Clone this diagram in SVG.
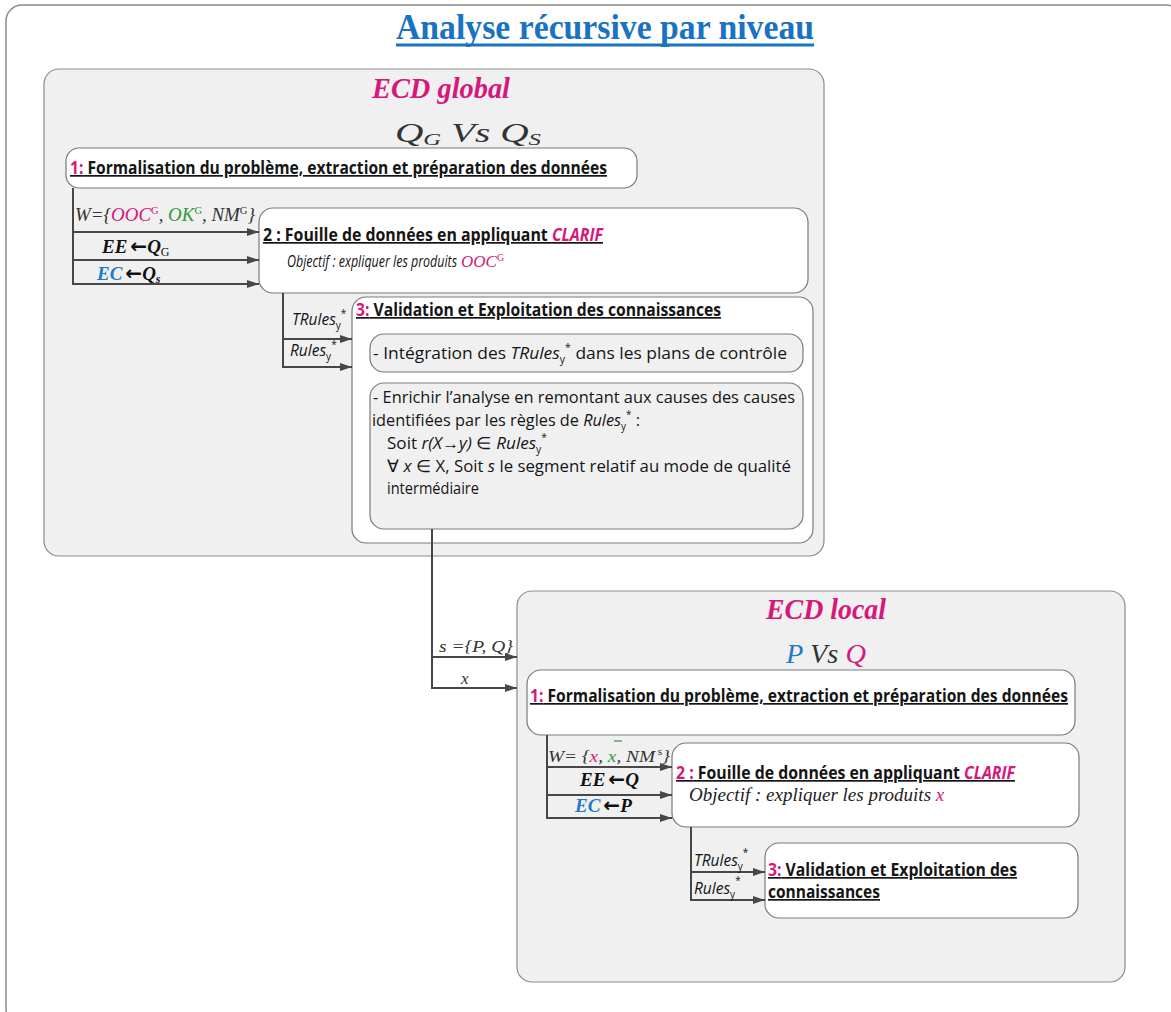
<svg xmlns="http://www.w3.org/2000/svg" width="1171" height="1012" viewBox="0 0 1171 1012">
<defs>
<marker id="ah" viewBox="0 0 12 8" refX="12" refY="4" markerWidth="13" markerHeight="8" markerUnits="userSpaceOnUse" orient="auto">
<path d="M0,0 L12,4 L0,8 z" fill="#474747"/>
</marker>
<style>
.frame{fill:#fff;stroke:#8a8a8a;stroke-width:1.5}
.panel{fill:#f0f0f0;stroke:#8c8c8c;stroke-width:1.2}
.box{fill:#fff;stroke:#7a7a7a;stroke-width:1.2}
.ibox{fill:#f0f0f0;stroke:#7a7a7a;stroke-width:1.2}
.ar{fill:none;stroke:#474747;stroke-width:2;marker-end:url(#ah)}
.cal{font-family:"Open Sans","Liberation Sans",sans-serif;fill:#151515}
.h{font-weight:bold;font-size:17px;text-decoration:underline}
.t{font-size:16.5px}
.it{font-style:italic}
.ser{font-family:"Liberation Serif","DejaVu Serif",serif;font-style:italic;fill:#333}
.big{font-family:"Liberation Serif","DejaVu Serif",serif;font-style:italic;font-weight:bold;fill:#d6177b}
.arr{font-family:"DejaVu Sans",sans-serif;font-style:normal;font-weight:bold}
.mag{fill:#d6177b}
.blu{fill:#1f7ac8}
.grn{fill:#2f9a3a}
.sm{font-size:10px;font-style:normal}
</style>
</defs>

<rect class="frame" x="6" y="5" width="1176" height="1020" rx="16"/>
<text x="605" y="39" text-anchor="middle" textLength="418" lengthAdjust="spacingAndGlyphs" font-family="Liberation Serif, serif" font-weight="bold" font-size="35" fill="#1a73c0">Analyse récursive par niveau</text>
<line x1="396" y1="45" x2="814" y2="45" stroke="#1a73c0" stroke-width="3"/>

<g id="ecd-global">
<rect class="panel" x="44" y="69" width="780" height="487" rx="15"/>
<text class="big" x="372" y="98" font-size="30" textLength="138" lengthAdjust="spacingAndGlyphs">ECD global</text>
<text class="ser" x="395" y="142" font-size="27" textLength="146" lengthAdjust="spacingAndGlyphs">Q<tspan font-size="17" dy="3">G</tspan><tspan dy="-3"> Vs Q</tspan><tspan font-size="17" dy="3">S</tspan></text>
</g>

<g id="g-step1">
<rect class="box" x="66" y="148" width="571" height="40" rx="13"/>
<text class="cal h" x="70" y="174" textLength="537" lengthAdjust="spacingAndGlyphs"><tspan class="mag">1:</tspan> Formalisation du problème, extraction et préparation des données</text>
</g>

<g id="g-step2">
<rect class="box" x="259" y="208" width="549" height="85" rx="14"/>
<text class="cal h" x="263" y="241" textLength="340" lengthAdjust="spacingAndGlyphs">2 : Fouille de données en appliquant <tspan class="mag it">CLARIF</tspan></text>
<text class="cal it" x="287" y="267" font-size="16" textLength="170" lengthAdjust="spacingAndGlyphs">Objectif  : expliquer les produits</text>
<text class="ser" x="461" y="267" font-size="17" style="fill:#d6177b">OOC<tspan font-size="10" font-style="normal" dy="-6">G</tspan></text>
</g>

<g id="g-step3">
<rect class="box" x="352" y="297" width="461" height="246" rx="14"/>
<text class="cal h" x="356" y="316" textLength="365" lengthAdjust="spacingAndGlyphs"><tspan class="mag">3:</tspan> Validation et Exploitation des connaissances</text>
<rect class="ibox" x="370" y="334" width="433" height="38" rx="14"/>
<text class="cal t" x="373" y="359" textLength="414" lengthAdjust="spacingAndGlyphs">- Intégration des <tspan class="it">TRules</tspan><tspan class="sm" dy="4">y</tspan><tspan class="sm" dy="-12">*</tspan><tspan dy="8"> dans les plans de contrôle</tspan></text>
<rect class="ibox" x="370" y="383" width="433" height="146" rx="14"/>
<text class="cal t" x="373" y="403" textLength="422" lengthAdjust="spacingAndGlyphs">- Enrichir l’analyse en remontant aux causes des causes</text>
<text class="cal t" x="372" y="426" textLength="268" lengthAdjust="spacingAndGlyphs">identifiées par les règles de <tspan class="it">Rules</tspan><tspan class="sm" dy="4">y</tspan><tspan class="sm" dy="-12">*</tspan><tspan dy="8"> :</tspan></text>
<text class="cal t" x="387" y="449" textLength="160" lengthAdjust="spacingAndGlyphs">Soit <tspan class="it">r(X→y)</tspan> ∈ <tspan class="it">Rules</tspan><tspan class="sm" dy="4">y</tspan><tspan class="sm" dy="-12">*</tspan></text>
<text class="cal t" x="387" y="472" textLength="404" lengthAdjust="spacingAndGlyphs">∀ <tspan class="it">x</tspan> ∈ X, Soit <tspan class="it">s</tspan> le segment relatif au mode de qualité</text>
<text class="cal t" x="387" y="494" textLength="92" lengthAdjust="spacingAndGlyphs">intermédiaire</text>
</g>

<g id="ecd-local">
<rect class="panel" x="517" y="591" width="608" height="391" rx="15"/>
<text class="big" x="766" y="619" font-size="30" textLength="120" lengthAdjust="spacingAndGlyphs">ECD local</text>
<text class="ser" x="786" y="663" font-size="28" textLength="80" lengthAdjust="spacingAndGlyphs"><tspan class="blu">P</tspan> Vs <tspan class="mag">Q</tspan></text>
</g>

<g id="l-step1">
<rect class="box" x="527" y="670" width="548" height="65" rx="14"/>
<text class="cal h" x="530" y="702" textLength="538" lengthAdjust="spacingAndGlyphs"><tspan class="mag">1:</tspan> Formalisation du problème, extraction et préparation des données</text>
</g>

<g id="l-step2">
<rect class="box" x="672" y="743" width="407" height="84" rx="14"/>
<text class="cal h" x="676" y="779" textLength="339" lengthAdjust="spacingAndGlyphs"><tspan class="mag">2 :</tspan> Fouille de données en appliquant <tspan class="mag it">CLARIF</tspan></text>
<text class="ser" x="689" y="801" font-size="19" style="fill:#222">Objectif  : expliquer les produits <tspan class="mag">x</tspan></text>
</g>

<g id="l-step3">
<rect class="box" x="765" y="843" width="313" height="75" rx="14"/>
<text class="cal h" x="768" y="876" textLength="249" lengthAdjust="spacingAndGlyphs"><tspan class="mag">3:</tspan> Validation et Exploitation des</text>
<text class="cal h" x="768" y="898" textLength="112" lengthAdjust="spacingAndGlyphs">connaissances</text>
</g>

<g id="connectors">
<path class="ar" d="M73,188 V284 H259"/>
<path class="ar" d="M73,232 H259"/>
<path class="ar" d="M73,260 H259"/>
<path class="ar" d="M283,293 V367 H352"/>
<path class="ar" d="M283,339 H352"/>
<path class="ar" d="M432,529 V688 H517"/>
<path class="ar" d="M432,657 H517"/>
<path class="ar" d="M547,735 V818 H672"/>
<path class="ar" d="M547,767 H672"/>
<path class="ar" d="M547,795 H672"/>
<path class="ar" d="M691,827 V900 H765"/>
<path class="ar" d="M691,872 H765"/>

<text class="ser" x="75" y="221" font-size="18" textLength="180" lengthAdjust="spacingAndGlyphs">W={<tspan class="mag">OOC</tspan><tspan class="mag sm" dy="-7">G</tspan><tspan dy="7">, </tspan><tspan class="grn">OK</tspan><tspan class="grn sm" dy="-7">G</tspan><tspan dy="7">, NM</tspan><tspan class="sm" dy="-7">G</tspan><tspan dy="7">}</tspan></text>
<text class="ser" x="102" y="253" font-size="19" font-weight="bold" style="fill:#111">EE<tspan class="arr" font-size="20" dx="3">←</tspan>Q<tspan font-size="12" font-weight="normal" font-style="normal" dy="3">G</tspan></text>
<text class="ser" x="97" y="280" font-size="19" font-weight="bold" style="fill:#111"><tspan class="blu">EC</tspan><tspan class="arr" font-size="20" dx="3">←</tspan>Q<tspan font-size="12" dy="3">s</tspan></text>
<text class="cal it" x="292" y="325" font-size="15.5">TRules<tspan class="sm" dy="4">y</tspan><tspan class="sm" dy="-12">*</tspan></text>
<text class="cal it" x="290" y="356" font-size="15.5">Rules<tspan class="sm" dy="4">y</tspan><tspan class="sm" dy="-12">*</tspan></text>
<text class="ser" x="439" y="652" font-size="17" textLength="74" lengthAdjust="spacingAndGlyphs">s ={P, Q}</text>
<text class="ser" x="461" y="684" font-size="17">x</text>
<text class="ser" x="548" y="762" font-size="17" textLength="122" lengthAdjust="spacingAndGlyphs">W= {<tspan class="mag">x</tspan>,  <tspan class="grn">x</tspan>, NM<tspan class="sm" dy="-7"> s</tspan><tspan dy="7">}</tspan></text>
<line x1="614" y1="741" x2="622" y2="741" stroke="#2f9a3a" stroke-width="1.2"/>
<text class="ser" x="580" y="786" font-size="19" font-weight="bold" style="fill:#111">EE<tspan class="arr" font-size="20" dx="3">←</tspan>Q</text>
<text class="ser" x="575" y="812" font-size="19" font-weight="bold" style="fill:#111"><tspan class="blu">EC</tspan><tspan class="arr" font-size="20" dx="3">←</tspan>P</text>
<text class="cal it" x="694" y="866" font-size="15.5">TRules<tspan class="sm" dy="4">y</tspan><tspan class="sm" dy="-14">*</tspan></text>
<text class="cal it" x="694" y="894" font-size="15.5">Rules<tspan class="sm" dy="4">y</tspan><tspan class="sm" dy="-14">*</tspan></text>
</g>
</svg>
